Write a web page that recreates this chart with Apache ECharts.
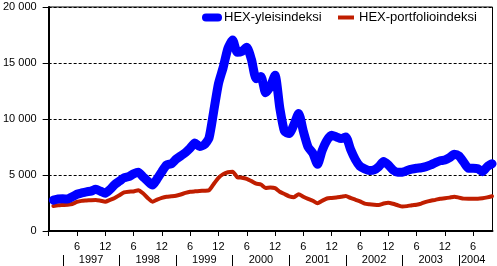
<!DOCTYPE html>
<html><head><meta charset="utf-8">
<script src="https://cdn.jsdelivr.net/npm/echarts@6/dist/echarts.min.js"></script>
<style>html,body{margin:0;padding:0;background:#fff}#c{width:497px;height:266px}</style>
</head><body><div id="c"></div>
<script>
// months counted from Dec 1996 (= 0); Jan 1997 = 1 ... Oct 2004 = 94
const months = [1,2,3,4,5,6,7,8,9,10,11,12,13,14,15,16,17,18,19,20,21,22,23,24,25,26,27,28,29,30,31,32,33,34,35,36,37,38,39,40,41,42,43,44,45,46,47,48,49,50,51,52,53,54,55,56,57,58,59,60,61,62,63,64,65,66,67,68,69,70,71,72,73,74,75,76,77,78,79,80,81,82,83,84,85,86,87,88,89,90,91,92,93,94];
const hexYleis = [2750,2850,2870,2860,3050,3280,3400,3500,3560,3720,3550,3370,3700,4150,4450,4750,4850,5100,5250,4850,4450,4100,4650,5300,5900,6000,6400,6700,7000,7400,7850,7550,7700,8300,10700,13150,14600,16300,17050,15950,16050,16400,15300,13600,13800,12350,12900,13900,11000,8900,8700,9500,10500,8900,7500,6950,5950,7200,8100,8550,8400,8250,8400,7300,6400,5780,5550,5400,5450,5750,6200,5900,5450,5250,5250,5400,5520,5600,5650,5750,5900,6100,6270,6330,6550,6850,6700,6150,5600,5600,5550,5300,5750,6000];
const hexPortfolio = [2230,2290,2320,2350,2410,2600,2690,2720,2750,2770,2700,2620,2780,2950,3200,3450,3510,3530,3640,3370,2950,2620,2800,2960,3060,3100,3150,3260,3400,3500,3540,3570,3600,3640,4200,4750,5080,5250,5300,4800,4760,4650,4450,4230,4150,3850,3880,3830,3500,3300,3100,3020,3290,3050,2860,2700,2480,2700,2900,2950,3000,3050,3120,2950,2800,2650,2450,2390,2350,2330,2450,2520,2430,2300,2180,2220,2300,2350,2450,2600,2700,2780,2880,2920,2980,3060,2980,2890,2880,2880,2880,2920,3000,3100];
const seriesNames = ['HEX-yleisindeksi','HEX-portfolioindeksi'];
const monthTickValues = [0,6,12,18,24,30,36,42,48,54,60,66,72,78,84,90];
const monthTickLabels = ['','6','12','6','12','6','12','6','12','6','12','6','12','6','12','6'];
const yearSeparatorMonths = [3,15,27,39,51,63,75,87];
const yearLabelMonths = [9,21,33,45,57,69,81,90];
const yearLabels = ['1997','1998','1999','2000','2001','2002','2003','2004'];
const yTickValues = [0,5000,10000,15000,20000];

const FONT = "'Liberation Sans', Arial, sans-serif";
const xMax = 94.1;
const zip = (xs, ys) => xs.map((x, i) => [x, ys[i]]);
const fmtThousands = v => String(v).replace(/\B(?=(\d{3})+(?!\d))/g, ' ');

const chart = echarts.init(document.getElementById('c'), null, {renderer: 'canvas'});
const baseX = {type: 'value', min: 0, max: xMax, gridIndex: 0, position: 'bottom', splitLine: {show: false}};
chart.setOption({
  animation: false,
  backgroundColor: '#fff',
  textStyle: {fontFamily: FONT},
  grid: {left: 45.5, right: 4.5, top: 7, bottom: 35, show: true, borderColor: '#000', borderWidth: 1, backgroundColor: 'transparent'},
  legend: [
    {data: [{name: seriesNames[0], icon: 'path://M4,0 L16,0 A4,4 0 0 1 16,8 L4,8 A4,4 0 0 1 4,0 Z'}],
     left: 202, top: 11, padding: 0, itemWidth: 20, itemHeight: 9, selectedMode: false,
     itemStyle: {borderWidth: 0},
     textStyle: {fontFamily: FONT, fontSize: 13, color: '#000', padding: [0,0,0,-3]}},
    {data: [{name: seriesNames[1], icon: 'rect'}],
     left: 338, top: 11, padding: 0, itemWidth: 16, itemHeight: 4, selectedMode: false,
     itemStyle: {borderWidth: 0},
     textStyle: {fontFamily: FONT, fontSize: 13, color: '#000'}}
  ],
  xAxis: [
    Object.assign({}, baseX, {
      axisLine: {show: true, lineStyle: {color: '#000', width: 2}},
      axisTick: {show: true, length: 5, lineStyle: {color: '#000', width: 1}, customValues: monthTickValues},
      axisLabel: {show: true, margin: 10, fontSize: 11, color: '#000', fontFamily: FONT, customValues: monthTickValues,
        formatter: v => { const i = monthTickValues.indexOf(v); return i >= 0 ? monthTickLabels[i] : ''; }}
    }),
    Object.assign({}, baseX, {
      offset: 24,
      axisLine: {show: false},
      axisTick: {show: true, length: 11, lineStyle: {color: '#000', width: 1}, customValues: yearSeparatorMonths},
      axisLabel: {show: false}
    }),
    Object.assign({}, baseX, {
      axisLine: {show: false},
      axisTick: {show: false},
      axisLabel: {show: true, margin: 23, fontSize: 11, color: '#000', fontFamily: FONT, customValues: yearLabelMonths,
        formatter: v => { const i = yearLabelMonths.indexOf(v); return i >= 0 ? yearLabels[i] : ''; }}
    })
  ],
  yAxis: {
    type: 'value', min: 0, max: 20000, interval: 5000,
    axisLine: {show: true, lineStyle: {color: '#000', width: 2}},
    axisTick: {show: true, length: 6, lineStyle: {color: '#000', width: 1}},
    axisLabel: {margin: 12, fontSize: 11, color: '#000', fontFamily: FONT, formatter: v => fmtThousands(v)},
    splitLine: {show: true, lineStyle: {color: '#000', width: 1, type: [3, 2]}}
  },
  series: [
    {name: seriesNames[1], type: 'line', xAxisIndex: 0, data: zip(months, hexPortfolio), showSymbol: false, symbol: 'none',
     smooth: 0.2, clip: false, color: '#c01e00', lineStyle: {width: 4, color: '#c01e00', cap: 'round', join: 'round'}, z: 2},
    {name: seriesNames[0], type: 'line', xAxisIndex: 0, data: zip(months, hexYleis), showSymbol: false, symbol: 'none',
     smooth: 0.2, clip: false, color: '#0000ff', lineStyle: {width: 9, color: '#0000ff', cap: 'round', join: 'round'}, z: 3}
  ]
});
</script></body></html>
